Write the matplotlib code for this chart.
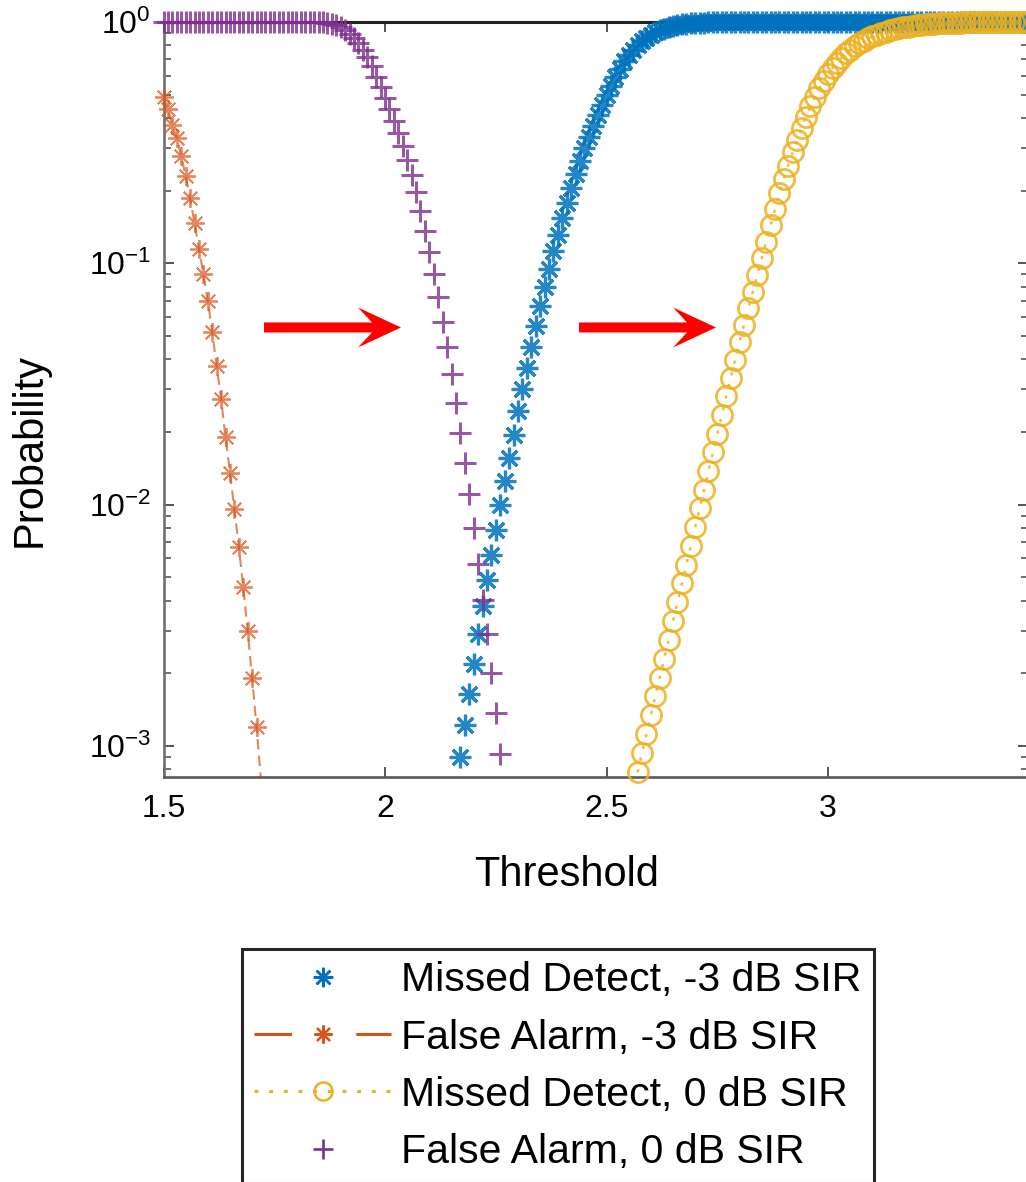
import numpy as np
import matplotlib.pyplot as plt
from matplotlib.lines import Line2D
from matplotlib.patches import Polygon
from matplotlib.transforms import ScaledTranslation

plt.rcParams['font.family'] = ['Liberation Sans', 'DejaVu Sans']
plt.rcParams['mathtext.fontset'] = 'custom'
plt.rcParams['mathtext.rm'] = 'Liberation Sans'
plt.rcParams['mathtext.it'] = 'Liberation Sans:italic'
plt.rcParams['mathtext.bf'] = 'Liberation Sans:bold'

# threshold grid step used by every curve
step = 0.01

# values, stored as log10(probability)
md_m3_start = 2.17   # Missed Detect, -3 dB SIR
md_m3_log = [-3.045, -2.913, -2.785, -2.660, -2.538, -2.420, -2.312, -2.208, -2.104, -2.002,
             -1.902, -1.806, -1.710, -1.614, -1.522, -1.433, -1.346, -1.261, -1.179, -1.100,
             -1.024, -0.951, -0.881, -0.814, -0.750, -0.689, -0.631, -0.576, -0.524, -0.475,
             -0.429, -0.385, -0.343, -0.303, -0.265, -0.229, -0.195, -0.163, -0.138, -0.116,
             -0.097, -0.080, -0.066, -0.053, -0.043, -0.035, -0.028, -0.022, -0.017, -0.013,
             -0.010, -0.008, -0.006, -0.0045, -0.0033, -0.0024, -0.0017, -0.0012, -0.0008, -0.0005,
             -0.0003,
             0, 0, 0, 0, 0, 0, 0, 0, 0, 0, 0, 0, 0, 0, 0, 0, 0, 0, 0, 0,
             0, 0, 0, 0, 0, 0, 0, 0, 0, 0, 0, 0, 0, 0, 0, 0, 0, 0, 0, 0,
             0, 0, 0, 0, 0, 0, 0, 0, 0, 0, 0, 0, 0, 0, 0, 0, 0, 0, 0, 0,
             0, 0, 0, 0, 0, 0, 0, 0]

fa_m3_start = 1.50   # False Alarm, -3 dB SIR
fa_m3_log = [-0.311, -0.361, -0.427, -0.481, -0.555, -0.638, -0.729, -0.833, -0.941, -1.044,
             -1.156, -1.285, -1.426, -1.562, -1.720, -1.869, -2.018, -2.176, -2.342, -2.524,
             -2.719, -2.922, -3.140]

md_0_start = 2.57    # Missed Detect, 0 dB SIR
md_0_log = [-3.110, -3.030, -2.952, -2.873, -2.795, -2.717, -2.639, -2.561, -2.483, -2.405,
            -2.327, -2.250, -2.172, -2.094, -2.016, -1.939, -1.861, -1.783, -1.706, -1.628,
            -1.551, -1.475, -1.400, -1.327, -1.256, -1.187, -1.119, -1.050, -0.980, -0.912,
            -0.843, -0.775, -0.710, -0.650, -0.595, -0.540, -0.490, -0.440, -0.393, -0.350,
            -0.310, -0.275, -0.243, -0.215, -0.190, -0.168, -0.148, -0.130, -0.115, -0.101,
            -0.089, -0.078, -0.068, -0.060, -0.052, -0.046, -0.040, -0.035, -0.030, -0.026,
            -0.022, -0.019, -0.016, -0.014, -0.012, -0.010, -0.0085, -0.007, -0.006, -0.005,
            -0.004, -0.0033, -0.0027, -0.0022, -0.0018, -0.0014, -0.0011, -0.0009, -0.0007, -0.0005,
            -0.0004, -0.0003, -0.0002, -0.0001, 0, 0, 0, 0, 0]

fa_0_start = 1.50    # False Alarm, 0 dB SIR
fa_0_log = [0, 0, 0, 0, 0, 0, 0, 0, 0, 0, 0, 0, 0, 0, 0, 0, 0, 0, 0, 0,
            0, 0, 0, 0, 0, 0, 0, 0, 0, 0, 0, 0, 0, 0, 0,
            -0.001, -0.002, -0.004, -0.008, -0.014, -0.022, -0.034, -0.049, -0.067, -0.089,
            -0.114, -0.146, -0.184, -0.226, -0.271, -0.317, -0.362, -0.409, -0.459, -0.512,
            -0.570, -0.634, -0.706, -0.783, -0.867, -0.955, -1.046, -1.140, -1.242, -1.348,
            -1.460, -1.580, -1.704, -1.828, -1.957, -2.097, -2.246, -2.395, -2.535, -2.698,
            -2.864, -3.035]

labels = ['Missed Detect, -3 dB SIR', 'False Alarm, -3 dB SIR',
          'Missed Detect, 0 dB SIR', 'False Alarm, 0 dB SIR']
colors = ['#0072BD', '#D95319', '#EDB120', '#7E2F8E']

xlim = (1.5, 3.45)
ylo = 10 ** -3.129
xticks = [1.5, 2, 2.5, 3]
xticklabels = ['1.5', '2', '2.5', '3']

ast = (8, 2, 0)

fig = plt.figure(figsize=(10.26, 11.82), dpi=100)
ax = fig.add_axes([163.5 / 1026, 405 / 1182, 864 / 1026, 755 / 1182])
ax.set_yscale('log')
ax.set_xlim(*xlim)
ax.set_ylim(ylo, 1.0)


def grid(start, n):
    return np.round(start + step * np.arange(n), 2)


def draw(start, logs, color, marker, ms, mew, ls=None, lw=1.5, alpha=0.85):
    x = grid(start, len(logs))
    p = 10.0 ** np.asarray(logs)
    if ls is not None:
        ax.plot(x, p, color=color, lw=lw, linestyle=ls, alpha=alpha)
    keep = p >= ylo
    ax.plot(x[keep], p[keep], ls='none', marker=marker, ms=ms, mew=mew,
            mec=color, mfc='none', alpha=alpha, clip_on=False, zorder=3)


draw(md_m3_start, md_m3_log, colors[0], ast, 15.5, 2.3)
draw(fa_m3_start, fa_m3_log, colors[1], ast, 13.5, 1.3, ls=(0, (5, 3)), lw=1.5, alpha=0.7)
draw(md_0_start, md_0_log, colors[2], 'o', 14.5, 2.0, ls=(0, (1.3, 3.5)), lw=1.8)
draw(fa_0_start, fa_0_log, colors[3], '+', 15.5, 2.2, alpha=0.8)

# axes styling
ax.set_xticks(xticks)
ax.set_xticklabels(xticklabels)
ax.minorticks_on()
ax.xaxis.set_minor_locator(plt.NullLocator())
ax.tick_params(which='both', direction='in', top=True, right=True, colors='#555555',
               labelcolor='black')
ax.tick_params(which='major', length=7.5, width=1.4, labelsize=23)
ax.tick_params(which='minor', length=5, width=1.2)
ax.tick_params(axis='x', pad=12)
ax.tick_params(axis='y', pad=9)
ax.spines['right'].set_visible(False)
ax.spines['top'].set_color('#222222')
ax.spines['top'].set_linewidth(2.2)
ax.spines['left'].set_color('#707070')
ax.spines['left'].set_linewidth(1.9)
ax.spines['bottom'].set_color('#5a5a5a')
ax.spines['bottom'].set_linewidth(1.9)

ax.set_xlabel('Threshold', fontsize=30, va='center')
ax.xaxis.set_label_coords((567 - 163.5) / 864, (777 - 875) / 755)
ax.set_ylabel('Probability', fontsize=30, va='center')
ax.yaxis.set_label_coords((30 - 163.5) / 864, (777 - 450) / 755)

# red arrows (shape in pixels, relative to the tip)
arrow_shape = np.array([(0, 0), (-43, 20), (-29, 5), (-137, 5), (-137, -5),
                        (-29, -5), (-43, -20)]) / 100.0
for tip_x in [2.036, 2.747]:
    tr = fig.dpi_scale_trans + ScaledTranslation(tip_x, 10 ** -1.266, ax.transData)
    ax.add_patch(Polygon(arrow_shape, closed=True, transform=tr, facecolor='#ff0000',
                         edgecolor='none', clip_on=False, zorder=4))

# legend
handles = [
    Line2D([], [], ls='none', marker=ast, ms=14, mew=1.8, color=colors[0]),
    Line2D([], [], ls=(0, (12.3, 21)), lw=2.2, marker=ast, ms=13, mew=1.6, color=colors[1]),
    Line2D([], [], ls=(0, (1.3, 3.5)), lw=2.2, marker='o', ms=13, mew=1.8, mfc='none',
           color=colors[2]),
    Line2D([], [], ls='none', marker='+', ms=14.5, mew=1.9, color=colors[3]),
]
leg = fig.legend(handles, labels, loc='upper left', bbox_to_anchor=(242 / 1026, 1 - 949 / 1182),
                 fontsize=29.5, frameon=True, fancybox=False, framealpha=1,
                 edgecolor='#262626', handlelength=3.34, handletextpad=0.24,
                 borderpad=0.3, labelspacing=0.47, borderaxespad=0)
leg.get_frame().set_linewidth(2.2)

fig.savefig('out.png', dpi=100)
